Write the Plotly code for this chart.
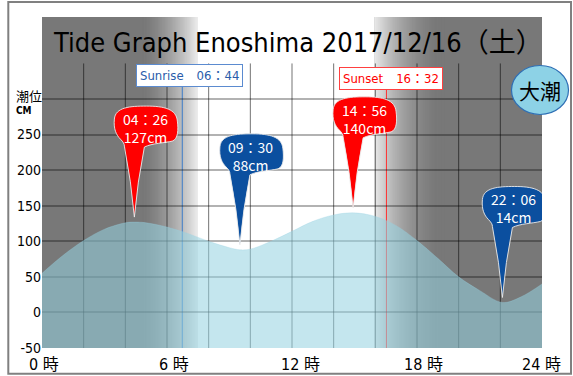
import plotly.graph_objects as go

# ---------------- data ----------------
hours = [0, 1, 2, 3, 4, 4.433, 5, 6, 7, 8, 9, 9.5, 10, 11, 12, 13, 14, 14.933,
         16, 17, 18, 19, 20, 21, 22.1, 23, 24]
tide_cm = [55, 80, 101, 117, 126, 127, 126, 120, 111, 100, 91, 88, 89, 100, 114, 128, 137, 140,
           135, 122, 101, 76, 50, 31, 14, 22, 40]

ext_times = ["04:26", "09:30", "14:56", "22:06"]
ext_cm = [127, 88, 140, 14]
ext_kind = ["high", "low", "high", "low"]

sunrise = "06:44"
sunset = "16:32"

ytick_vals = [-50, 0, 50, 100, 150, 200, 250, 300]
ytick_text = ["-50", "0", "50", "100", "150", "200", "250", ""]
xlabel_hours = [0, 6, 12, 18, 24]
xlabel_text = ["0 時", "6 時", "12 時", "18 時", "24 時"]
xgrid_hours = [2, 4, 6, 8, 10, 12, 14, 16, 18, 20, 22]

title_text = "Tide Graph Enoshima 2017/12/16（土）"
tide_class = "大潮"

# ---------------- layout geometry ----------------
FW, FH = 573, 376
L, T, W, H = 42, 17, 500, 331
Y0 = -50
PX_CM = 35.57 / 50.0
Y1 = Y0 + H / PX_CM
PX_H = W / 24.0

NARROW = "DejaVu Sans Condensed, Noto Sans CJK JP, sans-serif"
CJK = "Noto Sans CJK JP, sans-serif"


def hm(s):
    h, m = s.split(":")
    return int(h) + int(m) / 60.0


def px_x(p):
    return (p - L) / W


def px_y(p):
    return (T + H - p) / H


def val_at_px(p):
    return Y0 + (T + H - p) / PX_CM


sr_h, ss_h = hm(sunrise), hm(sunset)

shapes = []
DARK = 120

# background: night dark, day white, gradients around sunrise / sunset
shapes.append(dict(type="rect", xref="x", yref="paper", x0=0, x1=24, y0=0, y1=1,
                   fillcolor=f"rgb({DARK},{DARK},{DARK})", line=dict(width=0), layer="below"))
g1a, g1b = sr_h - 1.9, sr_h + 0.72
g2a, g2b = ss_h - 0.58, ss_h + 2.8
shapes.append(dict(type="rect", xref="x", yref="paper", x0=g1b, x1=g2a, y0=0, y1=1,
                   fillcolor="white", line=dict(width=0), layer="below"))


def strips(a, b, rising, power):
    n = int(round((b - a) * PX_H))
    out = []
    for i in range(n):
        t = (i + 0.5) / n
        f = t ** power if rising else (1 - t) ** power
        c = int(round(DARK + (255 - DARK) * f))
        out.append(dict(type="rect", xref="x", yref="paper",
                        x0=a + (b - a) * i / n, x1=a + (b - a) * (i + 1) / n + 0.01,
                        y0=0, y1=1, fillcolor=f"rgb({c},{c},{c})",
                        line=dict(width=0), layer="below"))
    return out


shapes += strips(g1a, g1b, True, 1.5)
shapes += strips(g2a, g2b, False, 2.0)

# vertical grid lines
for gx in xgrid_hours:
    shapes.append(dict(type="line", xref="x", yref="y", x0=gx, x1=gx, y0=Y0, y1=350,
                       line=dict(color="rgba(0,0,0,0.55)", width=1), layer="below"))

# sunrise / sunset lines
shapes.append(dict(type="line", xref="x", yref="y", x0=sr_h, x1=sr_h, y0=Y0, y1=val_at_px(87),
                   line=dict(color="#3d7cc9", width=1), layer="below"))
shapes.append(dict(type="line", xref="x", yref="y", x0=ss_h, x1=ss_h, y0=Y0, y1=val_at_px(90),
                   line=dict(color="#ff3030", width=1), layer="below"))


# balloon callouts
def blob_path(t, v):
    def P(dx, dy):
        return f"{t + dx / PX_H:.4f},{v + (dy + 5) / PX_CM:.3f}"
    return (f"M {P(0,0)} Q {P(3,35)} {P(10,70)} "
            f"C {P(18,74)} {P(30,74)} {P(38,76)} "
            f"C {P(44,78)} {P(44,88)} {P(43,96)} "
            f"C {P(42,108)} {P(30,111)} {P(12,111)} "
            f"C {P(-4,111)} {P(-19,110)} {P(-20,98)} "
            f"C {P(-21,88)} {P(-18,82)} {P(-14,78)} "
            f"C {P(-11,75)} {P(-10,73)} {P(-10,71)} "
            f"Q {P(-3,35)} {P(0,0)} Z")


annotations = []
for ts, v, k in zip(ext_times, ext_cm, ext_kind):
    t = hm(ts)
    col = "#ff0000" if k == "high" else "#0b4f9f"
    shapes.append(dict(type="path", xref="x", yref="y", path=blob_path(t, v),
                       fillcolor=col, line=dict(color="rgba(235,235,235,0.9)", width=1),
                       layer="above"))
    annotations.append(dict(x=t, y=v, xref="x", yref="y", xshift=11, yshift=94,
                            text=f"{ts.replace(':', '：')}<br>{v}cm", showarrow=False,
                            font=dict(family=CJK, size=14, color="white"),
                            xanchor="center", yanchor="middle", align="center"))

# tide class circle
shapes.append(dict(type="circle", xref="paper", yref="paper",
                   x0=px_x(511.5), x1=px_x(568.5), y0=px_y(114.5), y1=px_y(65.5),
                   fillcolor="#8dd2e6", line=dict(color="#2f6fb5", width=1.2), layer="above"))
annotations.append(dict(x=px_x(540), y=px_y(90), xref="paper", yref="paper", text=tide_class,
                        showarrow=False, font=dict(family=CJK, size=21, color="black"),
                        xanchor="center", yanchor="middle"))

# outer frame
shapes.append(dict(type="rect", xref="paper", yref="paper",
                   x0=px_x(8.3), x1=px_x(571), y0=px_y(373.7), y1=px_y(2),
                   line=dict(color="#808080", width=2), fillcolor="rgba(0,0,0,0)", layer="above"))

# title
annotations.append(dict(x=px_x(298), y=px_y(42), xref="paper", yref="paper", text=title_text,
                        showarrow=False, font=dict(family=NARROW, size=27, color="black"),
                        xanchor="center", yanchor="middle"))

# sunrise / sunset boxes
annotations.append(dict(x=sr_h, y=px_y(75), xref="x", yref="paper", xshift=7,
                        text=f"Sunrise　{sunrise.replace(':', '：')}", showarrow=False,
                        font=dict(family=NARROW, size=13, color="#2a5caa"),
                        bgcolor="white", bordercolor="#5b8bd0", borderwidth=1, borderpad=3,
                        xanchor="center", yanchor="middle"))
annotations.append(dict(x=ss_h, y=px_y(78), xref="x", yref="paper", xshift=5,
                        text=f"Sunset　{sunset.replace(':', '：')}", showarrow=False,
                        font=dict(family=NARROW, size=13, color="#ff0000"),
                        bgcolor="white", bordercolor="#ff4040", borderwidth=1, borderpad=3,
                        xanchor="center", yanchor="middle"))

# axis unit label
annotations.append(dict(x=px_x(14), y=px_y(95.5), xref="paper", yref="paper", text="潮位",
                        showarrow=False, font=dict(family=CJK, size=13, color="black"),
                        xanchor="left", yanchor="middle"))
annotations.append(dict(x=px_x(14), y=px_y(110.5), xref="paper", yref="paper", text="<b>CM</b>",
                        showarrow=False, font=dict(family=NARROW, size=10, color="black"),
                        xanchor="left", yanchor="middle"))

# x labels
xshifts = [2, 7, 8, 6, -1]
for hx, tx, sh in zip(xlabel_hours, xlabel_text, xshifts):
    annotations.append(dict(x=hx, y=px_y(364), xref="x", yref="paper", xshift=sh, text=tx,
                            showarrow=False, font=dict(family=NARROW, size=16, color="black"),
                            xanchor="center", yanchor="middle"))

fig = go.Figure()
fig.add_trace(go.Scatter(x=hours, y=[Y0] * len(hours), mode="lines",
                         line=dict(width=0, color="rgba(0,0,0,0)"), hoverinfo="skip",
                         showlegend=False))
fig.add_trace(go.Scatter(x=hours, y=tide_cm, mode="lines", fill="tonexty",
                         fillcolor="rgba(150,210,225,0.56)",
                         line=dict(width=0.5, color="rgba(150,210,225,0.56)", shape="spline"),
                         showlegend=False))

fig.update_layout(
    width=FW, height=FH, autosize=False,
    margin=dict(l=L, r=FW - L - W, t=T, b=FH - T - H, pad=0),
    paper_bgcolor="white", plot_bgcolor=f"rgb({DARK},{DARK},{DARK})",
    shapes=shapes, annotations=annotations, showlegend=False,
    xaxis=dict(range=[0, 24], showgrid=False, zeroline=False, showticklabels=False,
               showline=False, ticks="", fixedrange=True),
    yaxis=dict(range=[Y0, Y1], tickvals=ytick_vals, ticktext=ytick_text,
               showgrid=True, gridcolor="rgba(0,0,0,0.3)", gridwidth=2, zeroline=False,
               showline=False, ticks="", tickfont=dict(family=NARROW, size=14, color="black"),
               fixedrange=True),
)

fig.write_html("out.html", config={"displayModeBar": False},
               post_script="document.body.style.margin='0px';")
